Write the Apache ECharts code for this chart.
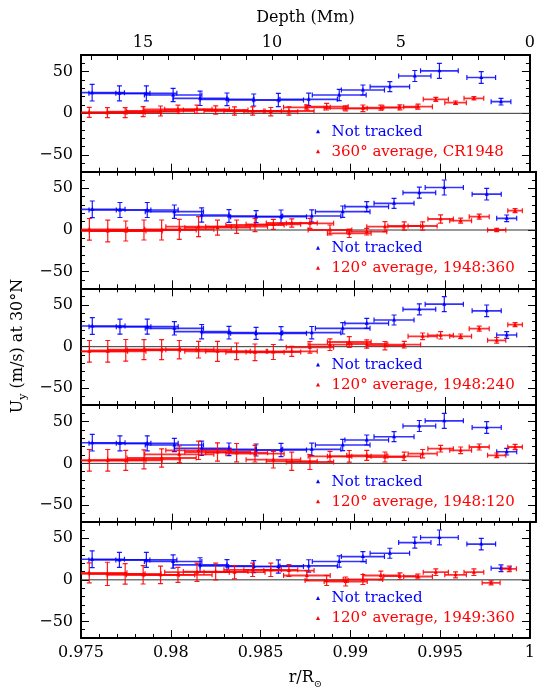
<!DOCTYPE html>
<html><head><meta charset="utf-8">
<script src="https://cdn.jsdelivr.net/npm/echarts@6/dist/echarts.min.js"></script>
<style>html,body{margin:0;padding:0;background:#fff}#c{width:538px;height:690px}</style>
</head><body><div id="c"></div>
<script>
// ---- tick labels ----
const xMajorTicks = [0.975, 0.98, 0.985, 0.99, 0.995, 1];
const depthTicks = [15, 10, 5, 0];
const depthMinorTicks = [1,2,3,4,5,6,7,8,9,10,11,12,13,14,15,16,17];
const yMajorTicks = [-50, 0, 50];

// ---- "Not tracked" (same in every panel) ----
const blueR  = [0.97562, 0.97714, 0.97864, 0.98013, 0.98163, 0.98313, 0.98462, 0.98599, 0.98768, 0.98938, 0.99070, 0.99220, 0.99359, 0.99496, 0.99729, 0.99839];
const blueU  = [24.8, 24, 24, 22, 18, 16.8, 16, 16, 16.8, 22, 28, 32, 44.8, 51, 43, 14];
const blueDr = [0.0018, 0.0017, 0.0017, 0.0016, 0.0015, 0.0015, 0.0014, 0.0014, 0.0016, 0.0015, 0.0012, 0.0011, 0.0009, 0.00105, 0.0008, 0.00055];
const blueDu = [10, 9, 9, 8, 8.6, 7.6, 7.2, 8, 7.4, 6.8, 6, 6, 6.6, 9, 7, 4];

// ---- averaged series: radii and radial half-widths ----
const redR  = [0.97546, 0.97647, 0.97746, 0.97846, 0.97943, 0.98040, 0.98146, 0.98250, 0.98355, 0.98456, 0.98557, 0.98658, 0.98758, 0.98868, 0.98974, 0.99070, 0.99170, 0.99276, 0.99377, 0.99476, 0.99586, 0.99688, 0.99784, 0.99885];
const redDr = [0.0021, 0.0021, 0.0020, 0.0020, 0.0019, 0.0019, 0.0018, 0.0018, 0.0017, 0.0016, 0.0015, 0.0014, 0.0013, 0.0012, 0.0012, 0.0011, 0.0010, 0.0009, 0.0008, 0.0007, 0.0006, 0.00055, 0.0005, 0.0004];

const red1U  = [1.2, 0.8, 0.8, 2, 2.8, 4.8, 4.8, 4, 2.8, 2.8, 2, 2.8, 7.2, 8, 6, 6, 6.8, 7.2, 8, 16.8, 12.8, 18];
const red1Du = [6, 6, 6, 6, 6, 5, 5, 5, 5, 5, 5, 5, 3, 4, 3, 4, 3, 3, 3, 2.4, 2, 2];
const red2U  = [0.8, -1.2, -1.2, 0, 0, 0.8, 4, 2.8, 4, 6, 6.8, 8.4, 8, 0, -4, -2, 4, 4.8, 4.8, 13.2, 11.2, 16, 0, 23.2];
const red2Du = [13, 13, 12, 12, 12, 12, 12, 9, 8, 8, 6, 5, 6, 6, 5, 4, 6, 5, 5, 5, 3, 3, 2, 2.4];
const red3U  = [-5.6, -5.6, -4.4, -3.6, -3.6, -3.6, -3.6, -5.6, -5.6, -6.8, -6.4, -5.6, -0.8, 2.4, 5.6, 3.2, 1.2, 2.4, 12.4, 13.6, 12.4, 21.6, 7.6, 26.4];
const red3Du = [13, 13, 13, 12, 12, 11, 10, 12, 10, 10, 9, 6, 7, 7, 6.4, 5, 5, 4, 4, 4.4, 2.8, 3, 3.4, 2.4];
const red4U  = [3.6, 3.6, 3.6, 4.8, 6.4, 10.8, 15.6, 13.6, 12.8, 11.6, 4.4, 2.5, 1.6, 8.4, 8.4, 9.6, 7.6, 8.4, 11.6, 17.6, 15.6, 19.6, 9.6, 19.6];
const red4Du = [13, 13, 12, 11.4, 11, 10, 11, 11, 11, 10, 10, 11, 9, 6, 7, 6, 6, 5, 5, 4, 4, 3.6, 2.8, 3.2];
const red5U  = [8.4, 7.2, 7.2, 6, 6, 6, 9.2, 10, 9.2, 12, 12, 11.2, 5.2, -0.8, -2, 0.4, 5.2, 4.4, 4, 9.2, 6, 9.2, -3.6, 13.2];
const red5Du = [12, 14, 12.4, 11, 10.6, 9, 11, 10, 8, 8, 8, 7, 6, 6, 5.4, 6, 5.4, 4, 3, 4, 3.6, 4, 2.4, 3.2];

const blueName = 'Not tracked';
const redNames = ['360° average, CR1948', '120° average, 1948:360', '120° average, 1948:240', '120° average, 1948:120', '120° average, 1949:360'];
const redU  = [red1U, red2U, red3U, red4U, red5U];
const redDu = [red1Du, red2Du, red3Du, red4Du, red5Du];

// ---- layout ----
const N = 5, GL = 81, GW = 455, GT = 55, GH = 116.67;
const FONT = 'DejaVu Serif';
const BLUE = '#0000ff', RED = '#ff0000';

function makeRender(color, lw) {
  return function (params, api) {
    const r = api.value(0), u = api.value(1), dr = api.value(2), du = api.value(3);
    const p = api.coord([r, u]);
    const xl = api.coord([r - dr, u])[0], xr = api.coord([r + dr, u])[0];
    const yt = api.coord([r, u + du])[1], yb = api.coord([r, u - du])[1];
    const hs = { stroke: color, lineWidth: lw, fill: null, opacity: 0.8 };
    const st = { stroke: color, lineWidth: 1.2, fill: null, opacity: 0.9 };
    const c = 2.5;
    return { type: 'group', children: [
      { type: 'line', shape: { x1: xl, y1: p[1], x2: xr, y2: p[1] }, style: hs },
      { type: 'line', shape: { x1: xl, y1: p[1] - c, x2: xl, y2: p[1] + c }, style: st },
      { type: 'line', shape: { x1: xr, y1: p[1] - c, x2: xr, y2: p[1] + c }, style: st },
      { type: 'line', shape: { x1: p[0], y1: yt, x2: p[0], y2: yb }, style: st },
      { type: 'line', shape: { x1: p[0] - c, y1: yt, x2: p[0] + c, y2: yt }, style: st },
      { type: 'line', shape: { x1: p[0] - c, y1: yb, x2: p[0] + c, y2: yb }, style: st },
      { type: 'polygon', shape: { points: [[p[0], p[1] - 2.5], [p[0] - 2, p[1] + 1.5], [p[0] + 2, p[1] + 1.5]] }, style: { fill: color } }
    ]};
  };
}

const grids = [], xAxes = [], yAxes = [], series = [], graphics = [];
const axLine = { show: true, onZero: false, lineStyle: { color: '#000', width: 2 } };
const tickStyle = { color: '#000', width: 1 };
const labelFont = { fontFamily: FONT, fontSize: 16, color: '#000' };

for (let i = 0; i < N; i++) {
  grids.push({ left: GL, top: GT + i * GH, width: GW, height: GH });
  const last = i === N - 1;
  xAxes.push({
    gridIndex: i, type: 'value', position: 'bottom', min: 0.975, max: 1, interval: 0.005,
    axisLine: axLine,
    axisTick: { show: true, inside: true, length: 8, lineStyle: tickStyle },
    minorTick: { show: true, splitNumber: 5, length: 4, lineStyle: tickStyle },
    axisLabel: last ? Object.assign({ show: true, customValues: xMajorTicks, margin: 7,
      formatter: v => String(+(+v).toFixed(3)) }, labelFont) : { show: false },
    splitLine: { show: false }, minorSplitLine: { show: false },
    name: last ? '{m|r/R}{s|\u2299}' : '', nameLocation: 'middle', nameGap: 32,
    nameTextStyle: { rich: {
      m: { fontFamily: FONT, fontSize: 16, color: '#000', lineHeight: 16, verticalAlign: 'top' },
      s: { fontFamily: FONT, fontSize: 10, color: '#000', lineHeight: 10, padding: [9, 0, 0, 0], verticalAlign: 'top' }
    } }
  });
  if (i === 0) {
    xAxes.push({
      gridIndex: 0, type: 'value', position: 'top', min: 0, max: 17.4, inverse: true,
      axisLine: axLine,
      axisTick: { show: true, inside: true, length: 5, customValues: depthMinorTicks, lineStyle: tickStyle },
      axisLabel: Object.assign({ show: true, customValues: depthTicks, margin: 4 }, labelFont),
      splitLine: { show: false },
      name: 'Depth (Mm)', nameLocation: 'middle', nameGap: 29,
      nameTextStyle: { fontFamily: FONT, fontSize: 16, color: '#000' }
    });
  } else {
    xAxes.push({
      gridIndex: i, type: 'value', position: 'top', min: 0.975, max: 1, interval: 0.005,
      axisLine: axLine,
      axisTick: { show: true, inside: true, length: 8, lineStyle: tickStyle },
      minorTick: { show: true, splitNumber: 5, length: 4, lineStyle: tickStyle },
      axisLabel: { show: false }, splitLine: { show: false }
    });
  }
  // y axes: left major, left minor, right major, right minor
  yAxes.push({
    gridIndex: i, type: 'value', position: 'left', min: -70, max: 70,
    axisLine: axLine,
    axisTick: { show: true, inside: true, length: 8, customValues: yMajorTicks, lineStyle: tickStyle },
    axisLabel: Object.assign({ show: true, customValues: yMajorTicks, margin: 8,
      formatter: v => (v < 0 ? '\u2212' + Math.abs(v) : String(v)) }, labelFont),
    splitLine: { show: false }
  });
  yAxes.push({
    gridIndex: i, type: 'value', position: 'left', min: -70, max: 70, interval: 10,
    axisLine: { show: false, onZero: false },
    axisTick: { show: true, inside: true, length: 4, lineStyle: tickStyle },
    axisLabel: { show: false }, splitLine: { show: false }
  });
  yAxes.push({
    gridIndex: i, type: 'value', position: 'right', min: -70, max: 70,
    axisLine: axLine,
    axisTick: { show: true, inside: true, length: 8, customValues: yMajorTicks, lineStyle: tickStyle },
    axisLabel: { show: false }, splitLine: { show: false }
  });
  yAxes.push({
    gridIndex: i, type: 'value', position: 'right', min: -70, max: 70, interval: 10,
    axisLine: { show: false, onZero: false },
    axisTick: { show: true, inside: true, length: 4, lineStyle: tickStyle },
    axisLabel: { show: false }, splitLine: { show: false }
  });

  const xi = 2 * i, yi = 4 * i;
  series.push({
    type: 'line', xAxisIndex: xi, yAxisIndex: yi, data: [[0.975, 0], [1, 0]],
    symbol: 'none', silent: true, z: 1, lineStyle: { color: '#333', width: 1 }
  });
  series.push({
    type: 'custom', name: blueName, xAxisIndex: xi, yAxisIndex: yi, clip: true, z: 2,
    renderItem: makeRender(BLUE, 1.6),
    encode: { x: 0, y: 1 },
    data: blueR.map((r, k) => [r, blueU[k], blueDr[k], blueDu[k]])
  });
  series.push({
    type: 'custom', name: redNames[i], xAxisIndex: xi, yAxisIndex: yi, clip: true, z: 3,
    renderItem: makeRender(RED, 1.8),
    encode: { x: 0, y: 1 },
    data: redU[i].map((u, k) => [redR[k], u, redDr[k], redDu[i][k]])
  });

  // legend-like labels
  const y1 = 131.7 + i * GH, y2 = 151.7 + i * GH;
  graphics.push({ type: 'polygon', shape: { points: [[318, y1 - 2.5], [316, y1 + 1.5], [320, y1 + 1.5]] }, style: { fill: BLUE } });
  graphics.push({ type: 'text', x: 331.5, y: y1, style: { text: blueName, fill: BLUE, font: '15px "DejaVu Serif"', verticalAlign: 'middle', align: 'left' } });
  graphics.push({ type: 'polygon', shape: { points: [[318, y2 - 2.5], [316, y2 + 1.5], [320, y2 + 1.5]] }, style: { fill: RED } });
  graphics.push({ type: 'text', x: 331.5, y: y2, style: { text: redNames[i], fill: RED, font: '15px "DejaVu Serif"', verticalAlign: 'middle', align: 'left' } });
}

graphics.push({
  type: 'text', x: 18, y: 346, rotation: Math.PI / 2,
  style: {
    text: '{m|U}{s|y}{m| (m/s) at 30°N}', align: 'center', verticalAlign: 'middle',
    rich: {
      m: { fontFamily: FONT, fontSize: 16, fill: '#000', lineHeight: 16, verticalAlign: 'top' },
      s: { fontFamily: FONT, fontSize: 11, fill: '#000', lineHeight: 11, padding: [8, 0, 0, 0], verticalAlign: 'top' }
    }
  }
});

const chart = echarts.init(document.getElementById('c'), null, { renderer: 'canvas' });
chart.setOption({
  animation: false,
  backgroundColor: '#fff',
  grid: grids, xAxis: xAxes, yAxis: yAxes, series: series, graphic: graphics
});
</script>
</body></html>
